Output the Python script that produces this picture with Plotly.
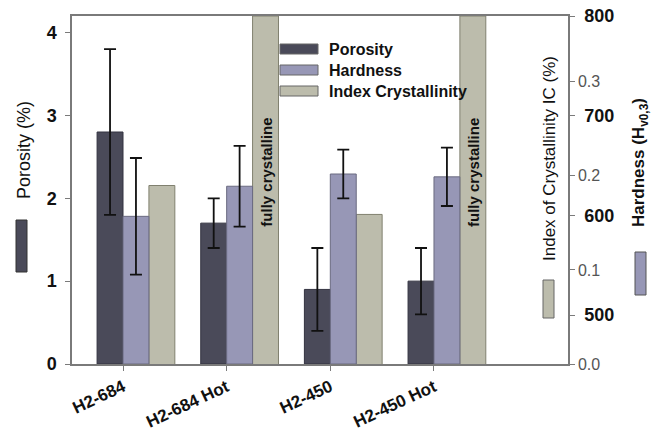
import plotly.graph_objects as go

samples = ["H2-684", "H2-684 Hot", "H2-450", "H2-450 Hot"]
porosity = [2.8, 1.7, 0.9, 1.0]
porosity_err = [1.0, 0.3, 0.5, 0.4]
hardness = [0.157, 0.189, 0.202, 0.199]
hardness_err = [0.062, 0.043, 0.026, 0.031]
crystallinity = [630, 800, 601, 800]
fully_crystalline = [False, True, False, True]

POR_COLOR = "#4a4a59"
HARD_COLOR = "#9797b6"
IC_COLOR = "#bcbcac"
FONT = "Liberation Sans, Arial, sans-serif"

# plot box in pixels
W, H = 665, 431
L, R, T, B = 72, 568, 16, 364


def px(x):
    return (x - L) / (R - L)


def py(y):
    return (B - y) / (B - T)


fig = go.Figure()
fig.add_trace(go.Bar(x=samples, y=porosity, offset=-0.25, width=0.25, yaxis="y",
                     marker=dict(color=POR_COLOR, line=dict(color="#333340", width=1)),
                     error_y=dict(type="data", array=porosity_err, color="#111", thickness=1.8, width=6)))
fig.add_trace(go.Bar(x=samples, y=hardness, offset=0, width=0.25, yaxis="y3",
                     marker=dict(color=HARD_COLOR, line=dict(color="#6a6a80", width=1)),
                     error_y=dict(type="data", array=hardness_err, color="#111", thickness=1.8, width=6)))
fig.add_trace(go.Bar(x=samples, y=crystallinity, offset=0.25, width=0.25, yaxis="y2",
                     marker=dict(color=IC_COLOR, line=dict(color="#80806f", width=1))))

shapes = []
annotations = []


def label(x, y, text, size, angle=0, anchor="center", **kw):
    annotations.append(dict(x=px(x), y=py(y), xref="paper", yref="paper", xanchor=anchor, yanchor="middle",
                            text=text, textangle=angle, showarrow=False,
                            font=dict(family=FONT, size=size, color="#111"), **kw))


def key(x0, x1, y0, y1, col, edge="#666"):
    shapes.append(dict(type="rect", xref="paper", yref="paper", x0=px(x0), x1=px(x1), y0=py(y1), y1=py(y0),
                       fillcolor=col, line=dict(color=edge, width=1)))


# "fully crystalline" labels in the saturated IC bars
for s, full in zip(samples, fully_crystalline):
    if full:
        annotations.append(dict(x=s, xref="x", xshift=39, y=py(172), yref="paper",
                                xanchor="center", yanchor="middle",
                                text="<b>fully crystalline</b>", textangle=-90, showarrow=False,
                                font=dict(family=FONT, size=15, color="#111")))

# legend drawn by hand
legend_rows = [("Porosity", POR_COLOR, 49), ("Hardness", HARD_COLOR, 70), ("Index Crystallinity", IC_COLOR, 91)]
for name, col, yc in legend_rows:
    key(280, 318, yc - 5, yc + 5, col)
    label(327, yc, "<b>%s</b>" % name, 16, anchor="left")

# axis titles with colour keys
label(24, 150, "Porosity (%)", 18, angle=-90)
key(16, 27, 220, 272, POR_COLOR, "#333")
label(549, 159, "Index of Crystallinity IC (%)", 17, angle=-90)
key(543, 554, 280, 318, IC_COLOR)
label(640, 163, "<b>Hardness (H<sub>v0,3</sub>)</b>", 17, angle=-90)
key(635, 646, 252, 295, HARD_COLOR, "#555")

axis_common = dict(showgrid=False, zeroline=False, showline=True, linecolor="#7a7a7a", linewidth=1.5,
                   ticks="outside", ticklen=5, tickcolor="#7a7a7a", automargin=False)

fig.update_layout(
    width=W, height=H,
    margin=dict(l=L, r=W - R, t=T, b=H - B),
    paper_bgcolor="white", plot_bgcolor="white",
    showlegend=False, barmode="overlay",
    font=dict(family=FONT, color="#111"),
    xaxis=dict(type="category", range=[-0.492, 4.293], tickangle=-25, mirror=True,
               tickfont=dict(family=FONT, size=17, color="#111", weight="bold"), **axis_common),
    yaxis=dict(range=[0, 4.2], tickvals=[0, 1, 2, 3, 4], mirror=True, ticklabelstandoff=5,
               tickfont=dict(family=FONT, size=18, color="#111", weight="bold"), **axis_common),
    yaxis2=dict(range=[451, 800], tickvals=[500, 600, 700, 800], overlaying="y", side="right", anchor="x",
                tickfont=dict(family=FONT, size=18, color="#111", weight="bold"), ticklabelstandoff=6,
                **axis_common),
    yaxis3=dict(range=[0, 0.37], tickvals=[0, 0.1, 0.2, 0.3], tickformat=".1f", overlaying="y", side="right",
                anchor="x", tickfont=dict(family=FONT, size=16, color="#555"), **axis_common),
    shapes=shapes,
    annotations=annotations,
)

# drop the page's default body margin so the figure sits at the window's corner
fig.write_html("out.html", config={"displayModeBar": False},
               post_script="document.body.style.margin='0';")
